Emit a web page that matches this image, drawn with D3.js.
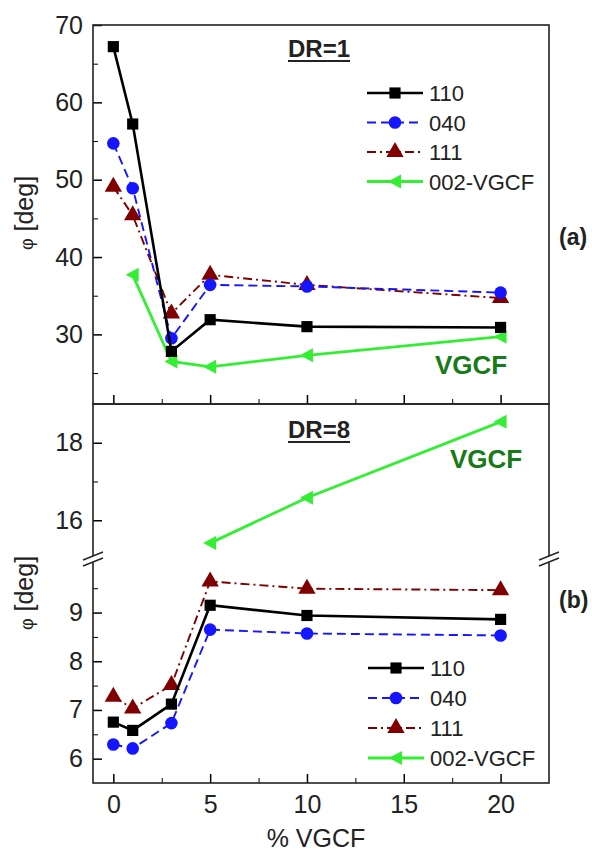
<!DOCTYPE html>
<html>
<head>
<meta charset="utf-8">
<script src="https://cdn.jsdelivr.net/npm/d3@7"></script>
<style>
  body { margin: 0; background: #fff; }
  svg text { font-family: "Liberation Sans", Arial, sans-serif; }
</style>
</head>
<body>
<svg id="chart" width="592" height="852"></svg>
<script>
// data
const pct = [0, 1, 3, 5, 10, 20];
const dr1_110 = [67.2, 57.2, 27.8, 31.9, 31.0, 30.9];
const dr1_040 = [54.7, 48.9, 29.5, 36.4, 36.2, 35.4];
const dr1_111 = [49.1, 45.4, 32.7, 37.7, 36.4, 34.7];
const pctVgcf1 = [1, 3, 5, 10, 20];
const dr1_vgcf = [37.7, 26.5, 25.8, 27.3, 29.7];

const dr8_110 = [6.75, 6.58, 7.12, 9.15, 8.94, 8.86];
const dr8_040 = [6.29, 6.21, 6.73, 8.65, 8.57, 8.53];
const dr8_111 = [7.27, 7.03, 7.51, 9.64, 9.49, 9.46];
const pctVgcf8 = [5, 10, 20];
const dr8_vgcf = [15.41, 16.58, 18.54];

const seriesNames = ["110", "040", "111", "002-VGCF"];
const xTicks = [0, 5, 10, 15, 20];
const xMinor = [2.5, 7.5, 12.5, 17.5];
const topTicks = [30, 40, 50, 60, 70];
const topMinor = [25, 35, 45, 55, 65];
const hiTicks = [16, 18];
const hiMinor = [17];
const loTicks = [6, 7, 8, 9];
const loMinor = [6.5, 7.5, 8.5, 9.5];

(function () {
  const svg = d3.select("#chart");
  const left = 93, right = 549;
  const topY0 = 25, midY = 404, brkY = 559, botY = 783;

  const x = d3.scaleLinear().domain([-1.05, 22.5]).range([left, right]);
  const yTop = d3.scaleLinear().domain([21, 70]).range([midY, topY0]);
  const yHi = d3.scaleLinear().domain([15, 19]).range([brkY, midY]);
  const yLo = d3.scaleLinear().domain([5.5, 10.1]).range([botY, brkY]);

  const styles = {
    "110": { color: "#000", dash: null, width: 2.6, shape: d3.symbolSquare, size: 125 },
    "040": { color: "#1515ff", dash: "9,5", width: 1.9, shape: d3.symbolCircle, size: 125 },
    "111": { color: "#800000", dash: "9,4,2,4", width: 1.9, shape: d3.symbolTriangle, size: 130 },
    "002-VGCF": { color: "#33ee33", dash: null, width: 2.8, shape: "left", size: 0 }
  };

  function marker(g, name, cx, cy) {
    const s = styles[name];
    if (s.shape === "left") {
      g.append("path")
        .attr("d", `M${cx - 7},${cy} L${cx + 6},${cy - 7} L${cx + 6},${cy + 7} Z`)
        .attr("fill", s.color);
    } else {
      g.append("path")
        .attr("d", d3.symbol().type(s.shape).size(s.size)())
        .attr("transform", `translate(${cx},${cy})`)
        .attr("fill", s.color);
    }
  }

  function series(g, name, xs, ys, yScale) {
    const s = styles[name];
    const pts = xs.map((d, i) => [x(d), yScale(ys[i])]);
    g.append("path")
      .attr("d", d3.line()(pts))
      .attr("fill", "none")
      .attr("stroke", s.color)
      .attr("stroke-width", s.width)
      .attr("stroke-dasharray", s.dash);
    pts.forEach((p) => marker(g, name, p[0], p[1]));
  }

  function yAxis(scale, major, minor) {
    svg.append("g")
      .attr("transform", `translate(${left},0)`)
      .call(d3.axisLeft(scale).tickValues(minor).tickSize(-5).tickFormat(""))
      .call((g) => g.select(".domain").remove());
    const ax = svg.append("g")
      .attr("transform", `translate(${left},0)`)
      .call(d3.axisLeft(scale).tickValues(major).tickSize(-9).tickPadding(10)
        .tickFormat(d3.format("d")))
      .call((g) => g.select(".domain").remove());
    ax.selectAll("line").attr("stroke-width", 1.5);
    ax.selectAll("text").attr("font-size", 25).attr("fill", "#222");
  }

  function xAxis(y, labels) {
    svg.append("g")
      .attr("transform", `translate(0,${y})`)
      .call(d3.axisBottom(x).tickValues(xMinor).tickSize(-5).tickFormat(""))
      .call((g) => g.select(".domain").remove());
    const ax = svg.append("g")
      .attr("transform", `translate(0,${y})`)
      .call(d3.axisBottom(x).tickValues(xTicks).tickSize(-9).tickPadding(12)
        .tickFormat(labels ? d3.format("d") : ""))
      .call((g) => g.select(".domain").remove());
    ax.selectAll("line").attr("stroke-width", 1.5);
    ax.selectAll("text").attr("font-size", 25).attr("fill", "#222");
  }

  yAxis(yTop, topTicks, topMinor);
  yAxis(yHi, hiTicks, hiMinor);
  yAxis(yLo, loTicks, loMinor);
  xAxis(midY, false);
  xAxis(botY, true);

  // frames
  svg.append("rect").attr("x", left).attr("y", topY0)
    .attr("width", right - left).attr("height", midY - topY0)
    .attr("fill", "none").attr("stroke", "#222").attr("stroke-width", 1.6);
  svg.append("rect").attr("x", left).attr("y", midY)
    .attr("width", right - left).attr("height", botY - midY)
    .attr("fill", "none").attr("stroke", "#222").attr("stroke-width", 1.6);

  // axis break marks
  [left, right].forEach((bx) => {
    svg.append("path")
      .attr("d", `M${bx - 10},${brkY + 1} L${bx + 10},${brkY - 7} L${bx + 10},${brkY - 1} L${bx - 10},${brkY + 7} Z`)
      .attr("fill", "#fff");
    [-3, 3].forEach((o) => {
      svg.append("line")
        .attr("x1", bx - 10).attr("y1", brkY + 4 + o)
        .attr("x2", bx + 10).attr("y2", brkY - 4 + o)
        .attr("stroke", "#222").attr("stroke-width", 1.5);
    });
  });

  // top panel (DR=1)
  const gTop = svg.append("g");
  series(gTop, "111", pct, dr1_111, yTop);
  series(gTop, "040", pct, dr1_040, yTop);
  series(gTop, "002-VGCF", pctVgcf1, dr1_vgcf, yTop);
  series(gTop, "110", pct, dr1_110, yTop);

  // bottom panel (DR=8)
  const gBot = svg.append("g");
  series(gBot, "002-VGCF", pctVgcf8, dr8_vgcf, yHi);
  series(gBot, "040", pct, dr8_040, yLo);
  series(gBot, "111", pct, dr8_111, yLo);
  series(gBot, "110", pct, dr8_110, yLo);

  function legend(lx, ly, step) {
    seriesNames.forEach((name, i) => {
      const s = styles[name];
      const yy = ly + i * step;
      const g = svg.append("g");
      g.append("line")
        .attr("x1", lx).attr("x2", lx + 56).attr("y1", yy).attr("y2", yy)
        .attr("stroke", s.color).attr("stroke-width", s.width)
        .attr("stroke-dasharray", s.dash);
      marker(g, name, lx + 28, yy);
      g.append("text").attr("x", lx + 62).attr("y", yy + 8)
        .attr("font-size", 22).attr("fill", "#222").text(name);
    });
  }
  legend(367, 93, 29.5);
  legend(368, 668, 30);

  // annotations
  function label(tx, ty, txt, opts) {
    return svg.append("text").attr("x", tx).attr("y", ty)
      .attr("font-size", opts.size).attr("font-weight", opts.bold ? "bold" : null)
      .attr("fill", opts.color || "#222").attr("text-anchor", opts.anchor || "start")
      .text(txt);
  }
  function underlined(tx, ty, txt) {
    const t = label(tx, ty, txt, { size: 24, bold: true });
    const w = t.node().getComputedTextLength();
    svg.append("line").attr("x1", tx).attr("x2", tx + w)
      .attr("y1", ty + 4).attr("y2", ty + 4)
      .attr("stroke", "#222").attr("stroke-width", 1.8);
  }
  underlined(288, 57, "DR=1");
  underlined(288, 438, "DR=8");

  label(435, 374, "VGCF", { size: 26, bold: true, color: "#187a18" });
  label(450, 468, "VGCF", { size: 26, bold: true, color: "#187a18" });
  label(559, 245, "(a)", { size: 23, bold: true });
  label(559, 608, "(b)", { size: 23, bold: true });

  [213, 593].forEach((cy) => {
    const t = svg.append("text").attr("transform", `translate(33,${cy}) rotate(-90)`)
      .attr("text-anchor", "middle").attr("font-size", 25).attr("fill", "#222");
    t.append("tspan").attr("font-size", 18).text("φ");
    t.append("tspan").text(" [deg]");
  });
  label(316, 847, "% VGCF", { size: 25, anchor: "middle" });
})();
</script>
</body>
</html>
